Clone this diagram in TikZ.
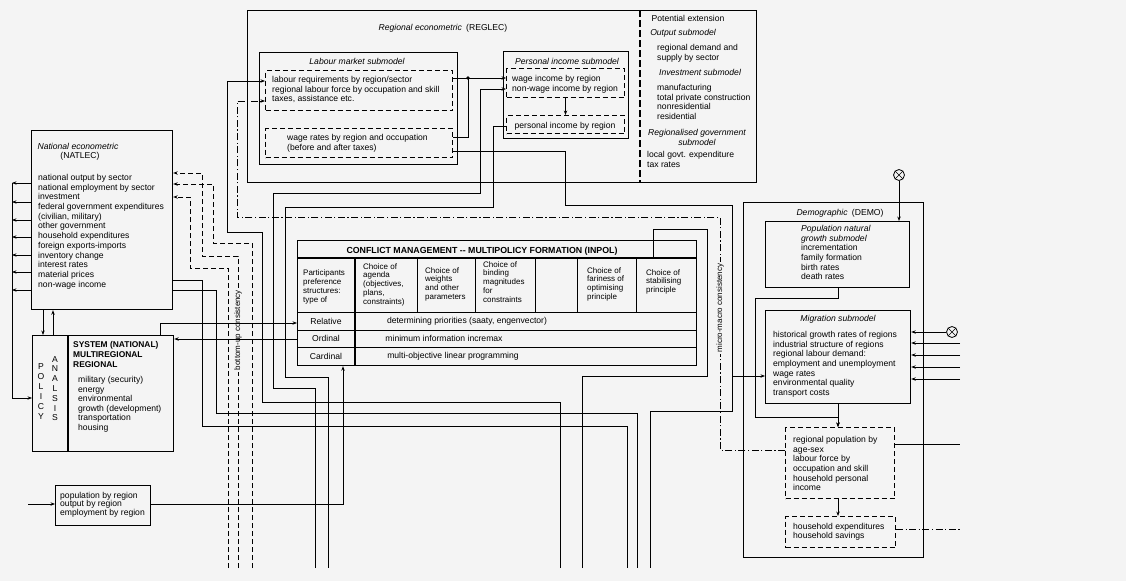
\documentclass[tikz,border=0pt]{standalone}
\usepackage{fontspec}
\setmainfont{Liberation Sans}
\usetikzlibrary{arrows.meta}
\definecolor{paper}{gray}{0.955}

\begin{document}
\begin{tikzpicture}[x=1pt,y=-1pt,
  every node/.style={inner sep=0pt,font=\fontsize{8.6}{9.7}\selectfont},
  box/.style={draw,line width=1.2pt,anchor=north west},
  dbox/.style={draw,line width=1pt,dash pattern=on 5pt off 3pt,anchor=north west},
  wire/.style={line width=0.9pt},
  dwire/.style={wire,dash pattern=on 5pt off 3pt},
  cwire/.style={wire,dash pattern=on 7pt off 2.5pt on 1.2pt off 2.5pt},
  arr/.style={-{Stealth[length=4.5pt,width=3.4pt]}},
  list/.style={align=left,anchor=north west},
  ttl/.style={font=\fontsize{8.6}{9.7}\selectfont\itshape},
  capsfont/.style={font=\fontsize{8.4}{10}\selectfont\bfseries},
  cell/.style={align=left,anchor=north west,font=\fontsize{8}{8.8}\selectfont},
  vlab/.style={rotate=90,fill=paper,inner xsep=2pt,inner ysep=1pt,font=\fontsize{8}{9}\selectfont},
  otimes/.style={circle,draw,fill=paper,minimum size=11pt,line width=0.8pt,
    path picture={\draw[line width=0.6pt] (path picture bounding box.north west) -- (path picture bounding box.south east)
      (path picture bounding box.north east) -- (path picture bounding box.south west);}}]
\fill[paper] (0,0) rectangle (1126,581);
\useasboundingbox (0,0) rectangle (1126,581);
\foreach \x in {228,238,252,315,328,560,582,627,637,650} \coordinate (b\x) at (\x,568);

\node[box,minimum width=509,minimum height=172] (reglec) at (247,10) {};
\node[box,minimum width=198,minimum height=112] (labour) at (259,52) {};
\node[dbox,minimum width=187,minimum height=40] (labreq) at (265,70) {};
\node[dbox,minimum width=187,minimum height=29] (wagerate) at (265,128) {};
\node[box,minimum width=125,minimum height=87] (persinc) at (503,51) {};
\node[dbox,minimum width=118,minimum height=29] (wageinc) at (506,68) {};
\node[dbox,minimum width=118,minimum height=18] (persreg) at (506,115) {};
\node[box,minimum width=141,minimum height=179] (natlec) at (31,130) {};
\node[box,minimum width=141,minimum height=116] (policy) at (32,335) {};
\node[box,minimum width=95,minimum height=40] (popout) at (55,485) {};
\node[box,minimum width=399,minimum height=125] (inpol) at (297,240) {};
\node[box,minimum width=180,minimum height=355] (demo) at (743,202) {};
\node[box,minimum width=144,minimum height=66] (natgrow) at (765,221) {};
\node[box,minimum width=145,minimum height=93] (migr) at (765,310) {};
\node[dbox,minimum width=109,minimum height=71] (regpop) at (785,427) {};
\node[dbox,minimum width=110,minimum height=31] (hhexp) at (785,516) {};

\draw[line width=1.1pt,dash pattern=on 7pt off 3pt] (reglec.north -| 640,0) -- (reglec.south -| 640,0);
\draw[line width=1.2pt] (policy.north -| 68,0) -- (policy.south -| 68,0);
\draw[line width=1.1pt] (inpol.west |- 0,258) -- (inpol.east |- 0,258);
\foreach \y in {312,330,347} \draw[line width=1pt] (inpol.west |- 0,\y) -- (inpol.east |- 0,\y);
\draw[line width=1.9pt] (355,258) -- (inpol.south -| 355,0);
\foreach \x in {417,475,535,577,636} \draw[line width=1pt] (\x,258) -- (\x,312);

\node[anchor=center] (reglecttl) at (443,28) {\textit{Regional econometric}\enspace(REGLEC)};
\node[ttl] (labttl) at (357,61) {Labour market submodel};
\node[list] (labtxt) at (272,76) {labour requirements by region/sector\\regional labour force by occupation and skill\\taxes, assistance etc.};
\node[list] (wagetxt) at (287,134) {wage rates by region and occupation\\(before and after taxes)};
\node[ttl] (pittl) at (567,61) {Personal income submodel};
\node[list] (pitxt) at (512,75) {wage income by region\\non-wage income by region};
\node (prtxt) at (565,126) {personal income by region};
\node (potttl) at (688,18) {Potential extension};
\node[ttl] (outttl) at (683,33) {Output submodel};
\node[list] (outtxt) at (657,44) {regional demand and\\supply by sector};
\node[ttl,anchor=west] (invttl) at (659,72) {Investment submodel};
\node[list] (invtxt) at (657,84) {manufacturing\\total private construction\\nonresidential\\residential};
\node[ttl,align=center,anchor=north] (govttl) at (697,129) {Regionalised government\\submodel};
\node[list] (govtxt) at (647,151) {local govt. expenditure\\tax rates};

\node[ttl] (natttl) at (78,146) {National econometric};
\node (natabbr) at (80,156) {(NATLEC)};
\node[list] (nattxt) at (38,174) {national output by sector\\national employment by sector\\investment\\federal government expenditures\\(civilian, military)\\other government\\household expenditures\\foreign exports-imports\\inventory change\\interest rates\\material prices\\non-wage income};

\node[align=center,anchor=north,font=\fontsize{8.6}{10}\selectfont] (polv) at (41,363) {P\\O\\L\\I\\C\\Y};
\node[align=center,anchor=north,font=\fontsize{8.6}{9.8}\selectfont] (anav) at (55,356) {A\\N\\A\\L\\S\\I\\S};
\node[list,capsfont] (systxt) at (73,341) {SYSTEM (NATIONAL)\\MULTIREGIONAL\\REGIONAL};
\node[list,font=\fontsize{8.6}{9.6}\selectfont] (sysitems) at (78,376) {military (security)\\energy\\environmental\\growth (development)\\transportation\\housing};
\node[list,font=\fontsize{8.6}{8.5}\selectfont] (poptxt) at (60,492) {population by region\\output by region\\employment by region};

\node[font=\fontsize{8.8}{10}\selectfont\bfseries] (inpolttl) at (482,251) {CONFLICT MANAGEMENT -{}- MULTIPOLICY FORMATION (INPOL)};
\node[cell,font=\fontsize{8}{9.3}\selectfont] (c1) at (303,269) {Participants\\preference\\structures:\\type of};
\node[cell] (c2) at (363,263) {Choice of\\agenda\\(objectives,\\plans,\\constraints)};
\node[cell] (c3) at (425,267) {Choice of\\weights\\and other\\parameters};
\node[cell] (c4) at (483,261) {Choice of\\binding\\magnitudes\\for\\constraints};
\node[cell] (c6) at (587,267) {Choice of\\fariness of\\optimising\\principle};
\node[cell] (c7) at (646,269) {Choice of\\stabilising\\principle};
\node (rel) at (326,321) {Relative};
\node (ord) at (326,338) {Ordinal};
\node (card) at (326,356) {Cardinal};
\node (relc) at (467,321) {determining priorities (saaty, engenvector)};
\node (ordc) at (444,338) {minimum information incremax};
\node (cardc) at (453,356) {multi-objective linear programming};

\node (demottl) at (840,213) {\textit{Demographic}\enspace(DEMO)};
\node[list] (ngtxt) at (801,225) {\textit{Population natural}\\\textit{growth submodel}\\incrementation\\family formation\\birth rates\\death rates};
\node[ttl] (migttl) at (838,319) {Migration submodel};
\node[list] (migtxt) at (773,331) {historical growth rates of regions\\industrial structure of regions\\regional labour demand:\\employment and unemployment\\wage rates\\environmental quality\\transport costs};
\node[list] (rptxt) at (793,436) {regional population by\\age-sex\\labour force by\\occupation and skill\\household personal\\income};
\node[list,font=\fontsize{8.6}{9}\selectfont] (hhtxt) at (793,523) {household expenditures\\household savings};

\node[otimes] (ot1) at (899,175) {};
\node[otimes] (ot2) at (952,332) {};

\draw[wire,arr] (labreq.east |- 0,78) -- (wageinc.west |- 0,78);
\draw[wire] (wagerate.east |- 0,137) -- (468,137) -- (468,78);
\fill (468,78) circle (1.9);
\draw[wire,arr] (wageinc.south) -- (persreg.north);
\draw[wire] (wagerate.east |- 0,151) -- (565,151) -- (565,205) -- (732,205) -- (732,411) -- (650,411) -- (b650);
\draw[wire,arr] (732,376) -- (migr.west |- 0,376);
\draw[wire] (persreg.west |- 0,126) -- (493,126) -- (493,207) -- (285,207) -- (285,377) -- (328,377) -- (b328);
\draw[wire,arr] (b315) -- (315,388) -- (273,388) -- (273,193) -- (480,193) -- (480,89) -- (wageinc.west |- 0,89);
\draw[wire,arr] (b560) -- (560,402) -- (262,402) -- (262,232) -- (227,232) -- (227,81) -- (labreq.west |- 0,81);
\draw[cwire,arr] (regpop.west |- 0,450) -- (720,450) -- (720,217) -- (237,217) -- (237,101) -- (labreq.west |- 0,101);
\draw[wire] (b582) -- (582,376) -- (707,376) -- (707,229) -- (653,229) -- (653,258);

\draw[dwire,arr] (b238) -- (238,256) -- (202,256) -- (202,173) -- (natlec.east |- 0,173);
\draw[dwire,arr] (b252) -- (252,243) -- (213,243) -- (213,184) -- (natlec.east |- 0,184);
\draw[dwire,arr] (b228) -- (228,268) -- (190,268) -- (190,197) -- (natlec.east |- 0,197);
\draw[wire] (natlec.east |- 0,280) -- (202,280) -- (202,426) -- (627,426) -- (b627);
\draw[wire] (natlec.east |- 0,290) -- (216,290) -- (216,413) -- (637,413) -- (b637);
\node[vlab] (bucons) at (238,330) {bottom-up consistency};
\node[vlab] (mmcons) at (720,308) {micro-macro consistency};

\foreach \y in {183,202,220,237,255,272,290} \draw[wire,arr] (natlec.west |- 0,\y) -- (12,\y);
\draw[wire] (12,183) -- (12,398);
\draw[wire,arr] (12,398) -- (policy.west |- 0,398);
\draw[wire,arr] (natlec.south -| 43,0) -- (policy.north -| 43,0);
\draw[wire,arr] (policy.north -| 53,0) -- (natlec.south -| 53,0);
\draw[wire,arr] (policy.north -| 160,0) -- (160,323) -- (inpol.west |- 0,323);
\draw[wire,arr] (inpol.west |- 0,339) -- (policy.east |- 0,339);
\coordinate (popin) at (28,504);
\draw[wire,arr] (popin) -- (popout.west |- 0,504);
\draw[wire,arr] (popout.east |- 0,504) -- (343,504) -- (inpol.south -| 343,0);

\draw[wire,arr] (ot1) -- (natgrow.north -| ot1);
\draw[wire,arr] (natgrow.south -| 838,0) -- (838,298) -- (755,298) -- (755,417) -- (838,417) -- (regpop.north -| 838,0);
\draw[wire,arr] (migr.south -| 838,0) -- (regpop.north -| 838,0);
\draw[wire,arr] (regpop.south -| 838,0) -- (hhexp.north -| 838,0);
\draw[wire,arr] (ot2) -- (migr.east |- ot2);
\foreach \y in {343,355,367,379} {\coordinate (r\y) at (960,\y); \draw[wire,arr] (r\y) -- (migr.east |- 0,\y);}
\coordinate (rpout) at (960,444);
\coordinate (hhout) at (960,529);
\draw[wire] (regpop.east |- 0,444) -- (rpout);
\draw[cwire] (hhexp.east |- 0,529) -- (hhout);
\end{tikzpicture}
\end{document}
